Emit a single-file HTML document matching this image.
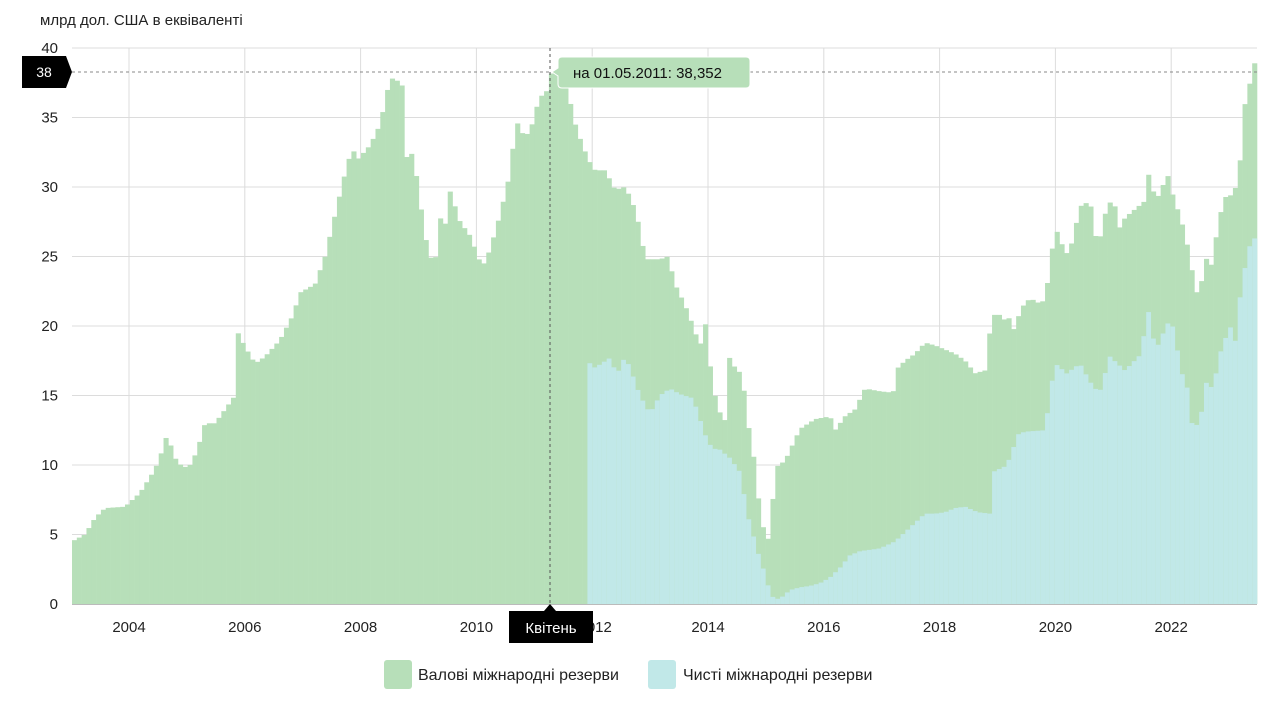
<!DOCTYPE html>
<html><head><meta charset="utf-8"><style>
body{margin:0;background:#fff;width:1280px;height:701px;overflow:hidden;font-family:"Liberation Sans",sans-serif;}
</style></head><body>
<svg id="s" width="1280" height="701" xmlns="http://www.w3.org/2000/svg" font-family="Liberation Sans, sans-serif">
<text x="40" y="25" font-size="15" fill="#222">млрд дол. США в еквіваленті</text>
<g id="grid" stroke="#dcdcdc" stroke-width="1"></g>
<g id="bars"></g>
<g id="labels" font-size="15" fill="#222"></g>
<line x1="66" y1="72" x2="1257" y2="72" stroke="#888" stroke-dasharray="3,3"/>
<line x1="550" y1="48" x2="550" y2="604" stroke="#555" stroke-dasharray="3,3"/>
<line x1="72" y1="604.5" x2="1257" y2="604.5" stroke="#bbb"/>
<path d="M22 56 H66 L72 72 L66 88 H22 Z" fill="#000"/>
<text x="44" y="77" font-size="14" fill="#fff" text-anchor="middle">38</text>
<path d="M560 57 H746 Q750 57 750 61 V84 Q750 88 746 88 H562 Q558 88 558 84 V76 L552 72 L558 68 V61 Q558 57 562 57 Z" fill="#b7dfb9" stroke="#fff" stroke-width="1"/>
<text x="573" y="78" font-size="15" fill="#111">на 01.05.2011: 38,352</text>
<path d="M509 611 H544 L550 604 L556 611 H593 V643 H509 Z" fill="#000"/>
<text x="551" y="633" font-size="15" fill="#fff" text-anchor="middle">Квітень</text>
<rect x="384" y="660" width="28" height="29" rx="3" fill="#b7dfb9"/>
<text x="418" y="680" font-size="16" fill="#222">Валові міжнародні резерви</text>
<rect x="648" y="660" width="28" height="29" rx="3" fill="#c1e8e8"/>
<text x="683" y="680" font-size="16" fill="#222">Чисті міжнародні резерви</text>
</svg>
<script>
var NS="http://www.w3.org/2000/svg";
function el(p,t,a,txt){var e=document.createElementNS(NS,t);for(var k in a)e.setAttribute(k,a[k]);if(txt!=null)e.textContent=txt;p.appendChild(e);return e;}
var Y=function(v){return 604-v*13.9;};
var grid=document.getElementById('grid'),lab=document.getElementById('labels'),bars=document.getElementById('bars');
for(var v=0;v<=40;v+=5){el(grid,'line',{x1:72,x2:1257,y1:Y(v),y2:Y(v)});el(lab,'text',{x:58,y:Y(v)+5,'text-anchor':'end'},String(v));}
var yrs=[2004,2006,2008,2010,2012,2014,2016,2018,2020,2022];
yrs.forEach(function(y,i){var x=129+57.9*2*i/2*1;x=129+(y-2004)*57.9;el(grid,'line',{x1:x,x2:x,y1:48,y2:604});if(y!==2012)el(lab,'text',{x:x,y:632,'text-anchor':'middle'},String(y));else el(lab,'text',{x:x+3,y:632,'text-anchor':'middle'},"2012");});
var G=[[72,4.5],[85,5],[95,6.2],[105,6.9],[125,7],[140,8],[155,9.7],[162,11],[167,12.2],[175,10.5],[183,9.8],[190,10],[197,11],[205,13],[215,13],[225,14],[235,15],[238,19.5],[245,18.5],[255,17.3],[265,17.8],[280,19],[293,20.8],[300,22.4],[315,23],[325,25],[335,28],[345,31],[352,32.8],[358,32],[370,33],[380,34.5],[390,37.8],[395,37.8],[402,37.3],[405,31.8],[410,32.8],[415,31.5],[420,29],[425,26.5],[430,25],[435,24.5],[440,27.8],[445,27.2],[450,29.7],[460,27.5],[470,26.5],[478,25],[482,24.2],[490,25.5],[500,28],[510,31],[516,34.8],[525,33.5],[532,34.5],[540,36.6],[545,36.5],[552,38.35],[560,38],[568,37],[573,35],[580,33.5],[588,32],[595,31.2],[605,31.2],[615,29.8],[625,30],[632,29],[640,27],[645,24.8],[660,24.8],[668,25],[675,23],[685,21.5],[693,20],[700,18.5],[705,20.4],[712,16],[718,14],[725,13.2],[728,17.9],[735,17],[742,16.5],[748,13],[755,10],[760,6.5],[765,5],[770,4.5],[775,9.8],[785,10.3],[800,12.6],[815,13.3],[830,13.5],[835,12.5],[845,13.5],[855,14],[865,15.5],[880,15.3],[893,15.2],[898,17],[905,17.5],[915,18],[925,18.8],[935,18.6],[945,18.3],[955,18],[965,17.5],[975,16.6],[985,16.8],[992,20.8],[1000,20.8],[1005,20.4],[1010,20.6],[1015,19.5],[1020,21.2],[1030,22],[1040,21.6],[1046,22],[1050,25],[1058,27],[1065,25],[1072,26],[1080,28.6],[1090,29],[1095,26.5],[1100,26.3],[1108,29],[1115,28.6],[1120,27],[1125,27.8],[1135,28.4],[1145,29],[1150,31.6],[1155,28.8],[1162,30],[1168,30.8],[1175,28.8],[1180,28],[1190,25],[1195,22.5],[1200,22.3],[1205,25.2],[1210,23.9],[1220,28],[1228,29.8],[1233,29],[1240,31.8],[1245,36],[1250,37.5],[1254,38.9],[1258,38.9]];
var N=[[587,17.5],[595,17],[610,17.7],[617,16.5],[625,17.8],[630,17],[640,15],[650,13.7],[660,15],[670,15.5],[680,15.1],[693,14.8],[700,13.3],[705,12.2],[712,11.2],[720,11.1],[730,10.5],[740,9.5],[748,6.3],[755,4.5],[760,3.2],[765,2.2],[770,0.8],[775,0.3],[782,0.5],[790,1],[800,1.2],[810,1.3],[820,1.5],[830,1.9],[840,2.6],[850,3.5],[860,3.8],[870,3.9],[880,4],[895,4.5],[910,5.5],[925,6.5],[935,6.5],[945,6.6],[955,6.9],[965,7],[978,6.6],[990,6.5],[993,9.5],[1005,9.9],[1010,10.5],[1018,12.2],[1025,12.4],[1045,12.5],[1048,14],[1052,16],[1058,17.4],[1065,16.5],[1080,17.3],[1090,16],[1095,15.5],[1100,15.3],[1110,17.8],[1125,16.8],[1140,17.9],[1150,21.5],[1155,18],[1160,19],[1170,20.5],[1175,19.5],[1180,17],[1188,15.4],[1192,13],[1200,12.8],[1205,16],[1213,15.5],[1220,18],[1230,20],[1236,18.8],[1240,22],[1248,25.5],[1254,26.3],[1258,26.3]];
function interp(P,x){if(x<=P[0][0])return P[0][1];for(var i=1;i<P.length;i++){if(x<=P[i][0]){var a=P[i-1],b=P[i];return a[1]+(b[1]-a[1])*(x-a[0])/(b[0]-a[0]);}}return P[P.length-1][1];}
var w=(1257-72)/246;
for(var i=0;i<246;i++){var x0=72+i*w,xc=x0+w/2,g=interp(G,xc);
el(bars,'rect',{x:x0,y:Y(g),width:w+0.3,height:g*13.9,fill:'#b7dfb9'});
if(xc>=587){var n=interp(N,xc);el(bars,'rect',{x:x0,y:Y(n),width:w+0.3,height:n*13.9,fill:'#c1e8e8'});}}
</script>
</body></html>
